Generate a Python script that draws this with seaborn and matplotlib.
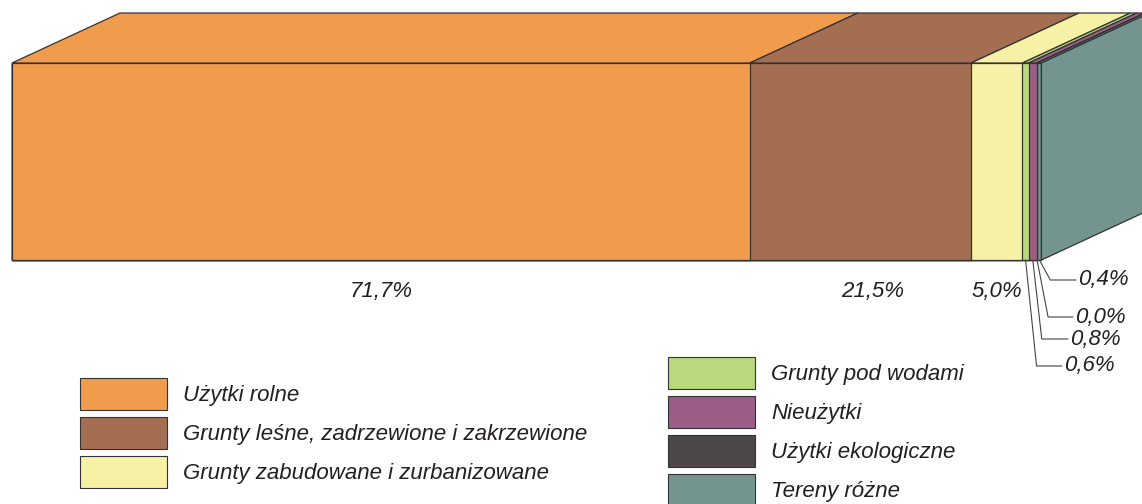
import numpy as np
import pandas as pd
import matplotlib.pyplot as plt
import seaborn as sns
from matplotlib.patches import Patch, Polygon

# struktura użytkowania gruntów (%)
CATEGORIES = [
    "Użytki rolne",
    "Grunty leśne, zadrzewione i zakrzewione",
    "Grunty zabudowane i zurbanizowane",
    "Grunty pod wodami",
    "Nieużytki",
    "Użytki ekologiczne",
    "Tereny różne",
]
SHARES = [71.7, 21.5, 5.0, 0.6, 0.8, 0.04, 0.4]
COLORS = ["#F09C4C", "#A46E53", "#F6F1A5", "#B9D97F", "#9A5E87", "#4D4848", "#74958F"]

EDGE = "#333333"
TXT = "#231F20"
W, H = 1142, 504
X0_PX, PX_PER_PCT = 12, 10.29        # lewa krawędź słupka, skala osi
TOP_PX, BAR_PX = 63, 197             # górna krawędź i wysokość frontu
DX, DY = 108 / PX_PER_PCT, 50 / BAR_PX   # głębokość 3D


def px_x(px):
    return (px - X0_PX) / PX_PER_PCT


def px_y(px):
    return -0.5 + (px - TOP_PX) / BAR_PX


sns.set_theme(style="white")
plt.rcParams["font.family"] = ["Liberation Sans", "DejaVu Sans"]
plt.rcParams["font.style"] = "italic"

fig = plt.figure(figsize=(W / 100, H / 100), dpi=100)
ax = fig.add_axes([0, 0, 1, 1])

cum = np.cumsum(SHARES)
left = np.concatenate([[0], cum[:-1]])

# ─────────────────────────────────────────────
# FRONT – nałożone słupki skumulowane
# ─────────────────────────────────────────────
df = pd.DataFrame({"kat": CATEGORIES, "cum": cum, "bar": ["a"] * len(CATEGORIES)})
order = CATEGORIES[::-1]
sns.barplot(
    data=df, x="cum", y="bar", hue="kat", hue_order=order,
    palette=dict(zip(CATEGORIES, COLORS)), dodge=False, width=1, saturation=1,
    orient="h", errorbar=None, legend=False,
    edgecolor=EDGE, linewidth=0.9, ax=ax,
)

# ─────────────────────────────────────────────
# GÓRA I BOK (efekt 3D)
# ─────────────────────────────────────────────
for x0, x1, c in zip(left, cum, COLORS):
    top = [(x0, -0.5), (x1, -0.5), (x1 + DX, -0.5 - DY), (x0 + DX, -0.5 - DY)]
    ax.add_patch(Polygon(top, closed=True, facecolor=c, edgecolor=EDGE, lw=0.9, zorder=3))

xe = cum[-1]
side = [(xe, -0.5), (xe, 0.5), (xe + DX, 0.5 - DY), (xe + DX, -0.5 - DY)]
ax.add_patch(Polygon(side, closed=True, facecolor=COLORS[-1], edgecolor=EDGE, lw=0.9, zorder=3))


def fmt(v):
    return f"{v:.1f}%".replace(".", ",")


# etykiety dużych segmentów
label_shift = [0, 12, 0]   # przesunięcie w px
for i in range(3):
    xc = (left[i] + cum[i]) / 2 + label_shift[i] / PX_PER_PCT
    ax.text(xc, px_y(291), fmt(SHARES[i]),
            ha="center", va="center", fontsize=16, color=TXT)

# etykiety małych segmentów z odnośnikami
small = [6, 5, 4, 3]
lab_y = [280, 317, 339, 366]
line_end = [1076, 1073, 1068, 1062]
knee_dx = [11, 11, 9, 11]
for i, ly, le, kd in zip(small, lab_y, line_end, knee_dx):
    xs = (left[i] + cum[i]) / 2
    xk = xs + kd / PX_PER_PCT
    ax.plot([xs, xk, px_x(le)], [0.5, px_y(ly), px_y(ly)], color="#444444", lw=0.8, zorder=4)
    ax.text(px_x(le + 2), px_y(ly), fmt(SHARES[i]), ha="left", va="center",
            fontsize=16, color=TXT)

ax.set_xlim(px_x(0), px_x(W))
ax.set_ylim(px_y(H), px_y(0))
ax.axis("off")

# ─────────────────────────────────────────────
# LEGENDA
# ─────────────────────────────────────────────
handles = [Patch(facecolor=c, edgecolor=EDGE, lw=0.8) for c in COLORS]
fs = 16
fpx = fs * 100 / 72
# wysokość prostokąta w legendzie = fs * (0.65 * handleheight + 0.245)
hh = (32 / fpx - 0.245) / 0.65
opts = dict(loc="upper left", frameon=False, fontsize=fs, borderpad=0, borderaxespad=0,
            handlelength=87 / fpx, handleheight=hh, labelspacing=7 / fpx,
            handletextpad=16 / fpx, labelcolor=TXT)
fig.legend(handles[:3], CATEGORIES[:3], bbox_to_anchor=(80 / W, 1 - 378 / H), **opts)
fig.legend(handles[3:], CATEGORIES[3:], bbox_to_anchor=(668 / W, 1 - 357 / H), **opts)

plt.savefig("out.png", dpi=100)
